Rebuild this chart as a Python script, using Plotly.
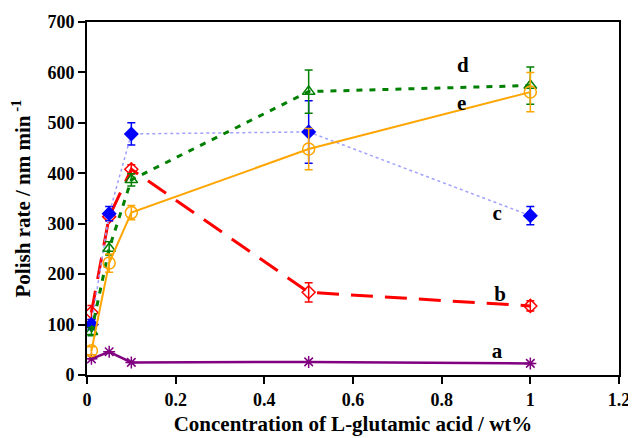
import plotly.graph_objects as go

conc = [0.01, 0.05, 0.1, 0.5, 1.0]

a_vals = [32, 46, 25, 26, 23]
a_err = [0, 0, 0, 0, 0]
b_vals = [124, 314, 408, 164, 137]
b_err = [14, 8, 9, 19, 10]
c_vals = [100, 320, 478, 482, 316]
c_err = [10, 14, 22, 62, 18]
d_vals = [86, 251, 387, 562, 574]
d_err = [8, 13, 12, 43, 37]
e_vals = [48, 222, 322, 448, 561]
e_err = [8, 18, 14, 41, 39]

labels = ["a", "b", "c", "d", "e"]
label_x = [0.925, 0.932, 0.925, 0.848, 0.845]
label_y = [44, 157, 317, 611, 536]

x_ticks = [0, 0.2, 0.4, 0.6, 0.8, 1, 1.2]
x_ticktext = ["0", "0.2", "0.4", "0.6", "0.8", "1", "1.2"]

series = [
    dict(name="a", y=a_vals, err=a_err, color="#800080", dash="solid", lw=2.5,
         sym="asterisk-open", msize=10, lcolor="#800080"),
    dict(name="b", y=b_vals, err=b_err, color="#ff0000", dash="22px,12px", lw=3,
         sym="diamond-open", msize=10, lcolor="#ff0000"),
    dict(name="c", y=c_vals, err=c_err, color="#0000ff", dash="dot", lw=1.5,
         sym="diamond", msize=10, lcolor="#a0a0ff"),
    dict(name="d", y=d_vals, err=d_err, color="#008000", dash="6px,7px", lw=3,
         sym="triangle-up-open", msize=11, lcolor="#008000"),
    dict(name="e", y=e_vals, err=e_err, color="#ffa500", dash="solid", lw=2,
         sym="circle-open", msize=12, lcolor="#ffa500"),
]

fig = go.Figure()
for s in series:
    fig.add_trace(go.Scatter(
        x=conc, y=s["y"], mode="lines+markers", name=s["name"],
        line=dict(color=s["lcolor"], width=s["lw"], dash=s["dash"]),
        marker=dict(symbol=s["sym"], size=s["msize"], color=s["color"],
                    line=dict(color=s["color"], width=1.5)),
        error_y=dict(type="data", array=s["err"], visible=True,
                     color=s["color"], thickness=1.5, width=4),
        showlegend=False,
    ))

fig.add_trace(go.Scatter(
    x=label_x, y=label_y, mode="text", text=labels,
    textfont=dict(family="Liberation Serif", size=21, color="black", weight="bold"),
    showlegend=False, hoverinfo="skip",
))

axis_common = dict(
    showline=True, linecolor="black", linewidth=2, mirror=True,
    ticks="outside", ticklen=7, tickwidth=1.5, tickcolor="black",
    showgrid=False, zeroline=False, automargin=False,
    tickfont=dict(family="Liberation Serif", size=18, color="black", weight="bold"),
)

title_font = dict(family="Liberation Serif", size=21, color="black", weight="bold")

# page body adds an 8px offset, so the figure is sized to fit the window
fig.update_layout(
    width=628, height=430,
    margin=dict(l=79, r=17, t=14, b=63),
    plot_bgcolor="white", paper_bgcolor="white",
    xaxis=dict(range=[0, 1.2], tickvals=x_ticks, ticktext=x_ticktext,
               title=dict(text="Concentration of L-glutamic acid / wt%", standoff=8,
                          font=title_font),
               **axis_common),
    yaxis=dict(range=[0, 700], dtick=100,
               title=dict(text="Polish rate / nm min<sup> -1</sup>", standoff=14,
                          font=title_font),
               **axis_common),
)

fig.write_html("out.html")
